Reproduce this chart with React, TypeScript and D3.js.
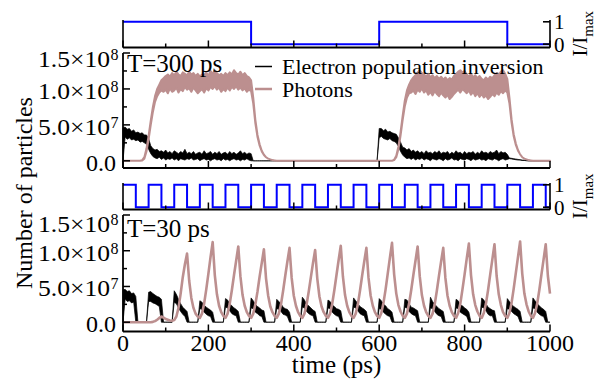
import React from 'react';
import * as d3 from 'd3';

// all traces sampled every 5 ps from 0 to 1000 ps, values in units of 1e7 particles
const STEP = 5;

// pump pulses (I/Imax), step functions
const pulse300Times = [0, 300, 600, 900, 1000];
const pulse300Levels = [1, 0, 1, 0, 0];
const pulse30Times = [0, 30, 60, 90, 120, 150, 180, 210, 240, 270, 300, 330, 360, 390, 420, 450, 480, 510,
  540, 570, 600, 630, 660, 690, 720, 750, 780, 810, 840, 870, 900, 930, 960, 990, 1000];
const pulse30Levels = [1, 0, 1, 0, 1, 0, 1, 0, 1, 0, 1, 0, 1, 0, 1, 0, 1, 0,
  1, 0, 1, 0, 1, 0, 1, 0, 1, 0, 1, 0, 1, 0, 1, 0, 0];

// T = 300 ps : electron population inversion (noise band low / high)
const e1Lo = [
  0.0, 3.3, 3.0, 3.2, 2.9, 3.0, 2.8, 2.9, 2.6, 2.7, 2.5, 2.3, 1.6, 1.0, 0.6, 0.4, 0.3, 0.5, 0.2, 0.4,
  0.1, 0.3, 0.2, 0.4, 0.1, 0.3, 0.0, 0.3, 0.2, 0.1, 0.3, 0.2, 0.4, 0.1, 0.2, 0.3, 0.0, 0.2, 0.3, 0.1,
  0.2, 0.0, 0.2, 0.3, 0.1, 0.2, 0.0, 0.3, 0.1, 0.2, 0.0, 0.2, 0.3, 0.1, 0.2, 0.0, 0.2, 0.1, 0.3, 0.1,
  0, 0, 0, 0, 0, 0, 0, 0, 0, 0, 0, 0, 0, 0, 0, 0, 0, 0, 0, 0,
  0, 0, 0, 0, 0, 0, 0, 0, 0, 0, 0, 0, 0, 0, 0, 0, 0, 0, 0, 0,
  0, 0, 0, 0, 0, 0, 0, 0, 0, 0, 0, 0, 0, 0, 0, 0, 0, 0, 0, 0,
  3.2, 3.4, 3.1, 3.0, 2.9, 3.1, 2.8, 2.7, 2.5, 2.0, 1.3, 0.8, 0.5, 0.3, 0.4, 0.2, 0.4, 0.1, 0.3, 0.2,
  0.4, 0.1, 0.3, 0.2, 0.0, 0.3, 0.2, 0.1, 0.3, 0.2, 0.0, 0.3, 0.1, 0.2, 0.4, 0.1, 0.2, 0.0, 0.3, 0.2,
  0.1, 0.3, 0.2, 0.0, 0.3, 0.1, 0.2, 0.3, 0.1, 0.2, 0.0, 0.3, 0.2, 0.1, 0.3, 0.2, 0.0, 0.2, 0.3, 0.1,
  0.2, 0.3, 0.25, 0.2, 0.15, 0.1, 0.1, 0.05, 0.05, 0, 0, 0, 0, 0, 0, 0, 0, 0, 0, 0,
  0,
];
const e1Hi = [
  4.6, 4.7, 4.4, 4.5, 4.1, 4.3, 3.9, 4.0, 3.8, 3.9, 3.6, 3.6, 3.1, 2.1, 1.7, 1.5, 1.6, 1.3, 1.4, 1.2,
  1.5, 1.1, 1.3, 1.0, 1.4, 1.2, 1.0, 1.3, 1.1, 1.6, 1.0, 1.2, 1.0, 1.3, 0.9, 1.1, 1.2, 0.9, 1.4, 1.0,
  1.1, 1.3, 0.9, 1.2, 1.0, 1.3, 0.9, 1.1, 1.2, 0.9, 1.3, 1.0, 1.2, 0.9, 1.1, 1.4, 1.0, 1.2, 0.9, 1.1,
  1.0, 0, 0, 0, 0, 0, 0, 0, 0, 0, 0, 0, 0, 0, 0, 0, 0, 0, 0, 0,
  0, 0, 0, 0, 0, 0, 0, 0, 0, 0, 0, 0, 0, 0, 0, 0, 0, 0, 0, 0,
  0, 0, 0, 0, 0, 0, 0, 0, 0, 0, 0, 0, 0, 0, 0, 0, 0, 0, 0, 0,
  4.5, 4.5, 4.2, 4.4, 4.0, 4.1, 3.9, 3.8, 3.7, 3.2, 2.6, 1.9, 1.8, 1.5, 1.7, 1.3, 1.5, 1.2, 1.4, 1.1,
  1.3, 1.0, 1.4, 1.1, 1.2, 1.0, 1.3, 1.1, 1.4, 1.0, 1.2, 1.1, 1.3, 0.9, 1.2, 1.0, 1.4, 1.1, 1.2, 0.9,
  1.3, 1.0, 1.2, 1.1, 1.3, 0.9, 1.2, 1.0, 1.4, 1.1, 1.2, 1.0, 1.3, 1.1, 1.2, 1.5, 1.0, 1.3, 1.1, 1.2,
  0.9, 0.4, 0.35, 0.3, 0.25, 0.2, 0.15, 0.1, 0.1, 0.05, 0, 0, 0, 0, 0, 0, 0, 0, 0, 0,
  0,
];

// T = 300 ps : photons (noise band low / high)
const p1Lo = [
  0, 0, 0, 0, 0, 0, 0, 0, 0, 0.05, 0.3, 1.3, 3.0, 5.0, 6.8, 8.2, 9.0, 9.5, 9.8, 9.6,
  9.9, 9.4, 10.1, 9.6, 9.8, 10.2, 9.5, 10.0, 9.7, 10.3, 9.9, 10.1, 9.6, 10.2, 9.8, 9.4, 9.7, 10.0, 9.5, 10.1,
  9.8, 10.3, 10.0, 10.4, 9.9, 10.2, 9.6, 10.0, 9.7, 10.2, 9.8, 10.3, 10.0, 10.4, 9.9, 10.2, 9.8, 10.1, 9.6, 9.9,
  9.7, 8.0, 5.2, 3.3, 2.1, 1.3, 0.8, 0.5, 0.3, 0.2, 0.1, 0.05, 0, 0, 0, 0, 0, 0, 0, 0,
  0, 0, 0, 0, 0, 0, 0, 0, 0, 0, 0, 0, 0, 0, 0, 0, 0, 0, 0, 0,
  0, 0, 0, 0, 0, 0, 0, 0, 0, 0, 0, 0, 0, 0, 0, 0, 0, 0, 0, 0,
  0, 0, 0, 0, 0, 0, 0, 0.1, 0.5, 1.6, 3.5, 5.7, 7.6, 8.8, 9.4, 9.5, 9.8, 9.3, 9.9, 9.6,
  10.1, 9.5, 9.8, 9.2, 9.6, 9.1, 9.7, 9.3, 9.0, 9.5, 9.1, 8.8, 9.2, 8.6, 8.9, 9.3, 9.6, 9.9, 9.5, 10.0,
  9.7, 9.4, 9.8, 9.2, 9.6, 9.0, 9.4, 8.9, 9.3, 8.8, 9.1, 8.6, 8.9, 9.3, 9.0, 9.5, 9.2, 9.7, 9.4, 9.8,
  9.5, 8.0, 5.3, 3.4, 2.2, 1.4, 0.9, 0.5, 0.3, 0.2, 0.1, 0.05, 0, 0, 0, 0, 0, 0, 0, 0,
  0,
];
const p1Hi = [
  0, 0, 0, 0, 0, 0, 0, 0, 0, 0.1, 0.5, 1.7, 3.5, 5.6, 7.5, 9.0, 10.0, 10.6, 11.2, 11.5,
  11.8, 12.0, 11.7, 12.2, 11.9, 12.4, 12.0, 11.8, 12.3, 12.1, 11.9, 12.4, 12.0, 12.2, 11.8, 12.1, 11.7, 12.0, 11.9, 12.3,
  11.8, 12.5, 12.1, 12.6, 12.2, 11.9, 12.1, 11.8, 12.2, 11.9, 12.3, 12.0, 12.6, 12.2, 12.0, 12.4, 11.9, 12.2, 11.8, 11.6,
  11.2, 8.8, 5.7, 3.6, 2.3, 1.4, 0.85, 0.5, 0.3, 0.2, 0.1, 0.05, 0, 0, 0, 0, 0, 0, 0, 0,
  0, 0, 0, 0, 0, 0, 0, 0, 0, 0, 0, 0, 0, 0, 0, 0, 0, 0, 0, 0,
  0, 0, 0, 0, 0, 0, 0, 0, 0, 0, 0, 0, 0, 0, 0, 0, 0, 0, 0, 0,
  0, 0, 0, 0, 0, 0, 0, 0.15, 0.7, 2.0, 4.0, 6.3, 8.4, 9.8, 10.6, 11.2, 11.6, 11.9, 12.3, 12.6,
  12.2, 12.0, 11.7, 12.1, 11.6, 11.9, 11.5, 11.8, 11.4, 11.7, 11.3, 11.6, 11.2, 11.5, 11.3, 11.8, 12.1, 12.4, 12.6, 12.3,
  12.5, 12.0, 11.7, 12.1, 11.6, 11.9, 11.5, 11.8, 11.4, 11.2, 11.6, 11.3, 11.7, 11.5, 11.9, 12.2, 12.0, 12.4, 12.6, 12.1,
  11.4, 8.8, 5.8, 3.7, 2.4, 1.5, 0.9, 0.5, 0.3, 0.2, 0.1, 0.05, 0, 0, 0, 0, 0, 0, 0, 0,
  0,
];

// T = 30 ps : electron population inversion (one row per 60 ps period)
const e2Lo = [
  0.0, 3.2, 2.9, 3.0, 2.7, 2.8, 0, 0, 0, 0, 0, 0,
  2.9, 2.9, 2.7, 2.6, 2.4, 2.2, 0, 0, 0, 0, 0, 0,
  2.8, 2.6, 2.0, 1.5, 1.1, 0.8, 0, 0, 0, 0, 0, 0,
  1.9, 1.8, 1.4, 1.1, 0.9, 0.8, 0, 0, 0, 0, 0, 0,
  2.1, 2.0, 1.6, 1.2, 1.0, 0.9, 0, 0, 0, 0, 0, 0,
  2.0, 1.9, 1.4, 1.2, 0.9, 0.8, 0, 0, 0, 0, 0, 0,
  1.9, 1.8, 1.5, 1.1, 1.0, 0.8, 0, 0, 0, 0, 0, 0,
  2.1, 2.0, 1.5, 1.2, 1.0, 0.9, 0, 0, 0, 0, 0, 0,
  2.0, 1.9, 1.4, 1.1, 0.9, 0.8, 0, 0, 0, 0, 0, 0,
  2.1, 2.0, 1.6, 1.2, 1.0, 0.9, 0, 0, 0, 0, 0, 0,
  1.9, 1.8, 1.4, 1.1, 0.9, 0.8, 0, 0, 0, 0, 0, 0,
  2.1, 2.0, 1.5, 1.2, 1.0, 0.9, 0, 0, 0, 0, 0, 0,
  2.0, 1.9, 1.5, 1.1, 0.9, 0.8, 0, 0, 0, 0, 0, 0,
  2.0, 1.9, 1.4, 1.2, 1.0, 0.8, 0, 0, 0, 0, 0, 0,
  2.1, 2.0, 1.6, 1.1, 0.9, 0.9, 0, 0, 0, 0, 0, 0,
  1.9, 1.8, 1.5, 1.2, 1.0, 0.8, 0, 0, 0, 0, 0, 0,
  2.0, 1.9, 1.4, 1.1, 0.9, 0.8, 0, 0, 0,
];
const e2Hi = [
  4.5, 4.6, 4.3, 4.4, 4.0, 4.1, 3.6, 0, 0, 0, 0, 0,
  4.2, 4.3, 4.0, 3.8, 3.6, 3.5, 3.2, 0, 0, 0, 0, 0,
  4.4, 3.9, 3.2, 2.6, 2.1, 1.8, 1.5, 0, 0, 0, 0, 0,
  3.0, 2.8, 2.4, 2.1, 1.9, 1.7, 1.4, 0, 0, 0, 0, 0,
  3.3, 3.1, 2.6, 2.3, 2.0, 1.8, 1.5, 0, 0, 0, 0, 0,
  3.4, 3.0, 2.5, 2.2, 2.0, 1.7, 1.6, 0, 0, 0, 0, 0,
  3.2, 2.9, 2.6, 2.1, 1.9, 1.8, 1.4, 0, 0, 0, 0, 0,
  3.5, 3.1, 2.5, 2.3, 2.0, 1.7, 1.5, 0, 0, 0, 0, 0,
  3.1, 2.9, 2.4, 2.2, 1.9, 1.8, 1.6, 0, 0, 0, 0, 0,
  3.4, 3.0, 2.6, 2.2, 2.0, 1.8, 1.5, 0, 0, 0, 0, 0,
  3.3, 3.0, 2.5, 2.3, 1.9, 1.7, 1.4, 0, 0, 0, 0, 0,
  3.2, 3.1, 2.6, 2.1, 2.0, 1.8, 1.6, 0, 0, 0, 0, 0,
  3.5, 2.9, 2.5, 2.2, 1.9, 1.7, 1.5, 0, 0, 0, 0, 0,
  3.2, 3.0, 2.4, 2.3, 2.0, 1.8, 1.4, 0, 0, 0, 0, 0,
  3.4, 3.1, 2.6, 2.1, 1.9, 1.7, 1.6, 0, 0, 0, 0, 0,
  3.3, 2.9, 2.5, 2.2, 2.0, 1.8, 1.5, 0, 0, 0, 0, 0,
  3.4, 3.0, 2.6, 2.3, 2.0, 1.8, 1.5, 0, 0,
];

// T = 30 ps : photons
const p2 = [
  0, 0, 0, 0, 0, 0, 0, 0, 0, 0, 0, 0,
  0, 0, 0.05, 0.15, 0.35, 0.6, 0.8, 0.65, 0.45, 0.35, 0.25, 0.2,
  0.3, 0.8, 2.0, 4.0, 6.3, 8.1, 9.6, 5.8, 3.4, 2.0, 1.2, 0.8,
  0.6, 1.2, 2.6, 4.6, 6.8, 9.1, 11.2, 6.6, 3.9, 2.3, 1.4, 0.9,
  0.6, 1.2, 2.6, 4.5, 6.6, 8.6, 10.6, 6.4, 3.8, 2.3, 1.4, 0.9,
  0.6, 1.2, 2.5, 4.3, 6.4, 8.3, 10.2, 6.1, 3.7, 2.2, 1.4, 0.9,
  0.6, 1.2, 2.5, 4.4, 6.5, 8.5, 10.4, 6.2, 3.7, 2.3, 1.4, 0.9,
  0.6, 1.2, 2.5, 4.3, 6.3, 8.3, 10.1, 6.1, 3.6, 2.2, 1.4, 0.9,
  0.6, 1.2, 2.6, 4.5, 6.6, 8.7, 10.7, 6.4, 3.8, 2.3, 1.4, 0.9,
  0.6, 1.2, 2.5, 4.4, 6.5, 8.5, 10.4, 6.2, 3.7, 2.3, 1.4, 0.9,
  0.6, 1.3, 2.7, 4.6, 6.8, 9.0, 11.1, 6.7, 4.0, 2.4, 1.5, 0.9,
  0.6, 1.2, 2.6, 4.5, 6.6, 8.6, 10.6, 6.4, 3.8, 2.3, 1.4, 0.9,
  0.6, 1.2, 2.5, 4.4, 6.5, 8.5, 10.4, 6.2, 3.7, 2.3, 1.4, 0.9,
  0.6, 1.3, 2.6, 4.6, 6.7, 8.9, 11.0, 6.6, 3.9, 2.4, 1.5, 0.9,
  0.6, 1.3, 2.6, 4.5, 6.7, 8.8, 10.9, 6.5, 3.9, 2.4, 1.4, 0.9,
  0.6, 1.3, 2.7, 4.7, 6.9, 9.1, 11.3, 6.8, 4.0, 2.5, 1.5, 0.9,
  0.6, 1.3, 2.6, 4.5, 6.7, 8.8, 10.9, 6.5, 4.0,
];

const yTickVals = [0, 5, 10, 15];
const yMinorVals = [2.5, 7.5, 12.5];
const yTickText = ['0.0', '5.0\u00d710', '1.0\u00d710', '1.5\u00d710'];
const yTickExp = ['', '7', '8', '8'];

const FONT = '"Liberation Serif", "Times New Roman", Times, serif';
const BLUE = '#0000ff';
const ROSY = '#bc8f8f';

const x = d3.scaleLinear().domain([0, 1000]).range([123, 550]);
const xMajor = x.ticks(5);
const xMinor = x.ticks(10).filter(t => !xMajor.includes(t));

type PanelProps = {
  stripTop: number; stripBottom: number; stripDomain: [number, number];
  mainTop: number; mainBottom: number; mainDomain: [number, number];
  pulseT: number[]; pulseL: number[];
  eLo: number[]; eHi: number[];
  pLo?: number[]; pHi?: number[]; pLine?: number[];
  label: string; labelY: number; topShift: number;
  legend?: boolean; xLabels?: boolean;
};

function Panel(p: PanelProps) {
  const yS = d3.scaleLinear().domain(p.stripDomain).range([p.stripBottom, p.stripTop]);
  const yM = d3.scaleLinear().domain(p.mainDomain).range([p.mainBottom, p.mainTop]);
  const x0 = x.range()[0], x1 = x.range()[1];

  const pulsePath = d3.line<number>()
    .x((_, i) => x(p.pulseT[i])).y(d => yS(d))
    .curve(d3.curveStepAfter)(p.pulseL) ?? '';

  const band = (lo: number[], hi: number[]) => d3.area<number>()
    .x(i => x(i * STEP)).y0(i => yM(lo[i])).y1(i => yM(hi[i]))(d3.range(lo.length)) ?? '';

  const ePath = band(p.eLo, p.eHi);
  const pPath = p.pLo && p.pHi ? band(p.pLo, p.pHi)
    : d3.line<number>().x((_, i) => x(i * STEP)).y(d => yM(d))(p.pLine ?? []) ?? '';

  const stripMid = (p.stripTop + p.stripBottom) / 2;

  return (
    <g>
      {/* pump strip */}
      <path d={pulsePath} fill="none" stroke={BLUE} strokeWidth={2} />
      <g stroke="#000" fill="none">
        <line x1={x0} x2={x0} y1={p.stripTop} y2={p.stripBottom} strokeWidth={1.6} />
        <line x1={x1} x2={x1} y1={p.stripTop} y2={p.stripBottom} strokeWidth={1.6} />
        <line x1={x0} x2={x1} y1={p.stripBottom} y2={p.stripBottom} strokeWidth={2} />
        {[0, 1].map(v => (
          <line key={v} x1={x1} x2={x1 - 7} y1={yS(v)} y2={yS(v)} strokeWidth={1.6} />
        ))}
        {xMajor.map(t => <line key={t} x1={x(t)} x2={x(t)} y1={p.stripBottom} y2={p.stripBottom - 7} strokeWidth={1.5} />)}
        {xMinor.map(t => <line key={t} x1={x(t)} x2={x(t)} y1={p.stripBottom} y2={p.stripBottom - 4} strokeWidth={1.5} />)}
      </g>
      {[0, 1].map(v => (
        <text key={v} x={554} y={yS(v) + 7.5} fontSize={21}>{v}</text>
      ))}
      <text transform={`translate(587,${stripMid}) rotate(-90)`} textAnchor="middle" fontSize={21}>
        I/I<tspan fontSize={15} dy={6}>max</tspan>
      </text>

      {/* main plot */}
      <path d={ePath} fill="#000" stroke="#000" strokeWidth={0.7} />
      {p.pLo
        ? <path d={pPath} fill={ROSY} stroke={ROSY} strokeWidth={2} strokeLinejoin="round" />
        : <path d={pPath} fill="none" stroke={ROSY} strokeWidth={2.6} strokeLinejoin="round" />}
      <g stroke="#000" fill="none">
        <line x1={x0} x2={x0} y1={p.mainTop} y2={p.mainBottom} strokeWidth={1.8} />
        <line x1={x0} x2={x1} y1={p.mainBottom} y2={p.mainBottom} strokeWidth={2} />
        {yTickVals.map(v => <line key={v} x1={x0} x2={x0 + 7} y1={yM(v)} y2={yM(v)} strokeWidth={1.5} />)}
        {yMinorVals.map(v => <line key={v} x1={x0} x2={x0 + 4} y1={yM(v)} y2={yM(v)} strokeWidth={1.5} />)}
        {xMajor.map(t => <line key={t} x1={x(t)} x2={x(t)} y1={p.mainBottom} y2={p.mainBottom - 7} strokeWidth={1.5} />)}
        {xMinor.map(t => <line key={t} x1={x(t)} x2={x(t)} y1={p.mainBottom} y2={p.mainBottom - 4} strokeWidth={1.5} />)}
      </g>
      {yTickVals.map((v, k) => {
        const base = yM(v) + 8 + (k === yTickVals.length - 1 ? p.topShift : 2);
        if (!yTickExp[k]) {
          return <text key={v} x={116} y={base} textAnchor="end" fontSize={24}>{yTickText[k]}</text>;
        }
        return (
          <g key={v}>
            <text x={38} y={base} fontSize={24} textLength={72} lengthAdjust="spacingAndGlyphs">{yTickText[k]}</text>
            <text x={110.5} y={base - 7} fontSize={16}>{yTickExp[k]}</text>
          </g>
        );
      })}
      {p.xLabels && xMajor.map(t => (
        <text key={t} x={x(t)} y={p.mainBottom + 19} textAnchor="middle" fontSize={24}>{t}</text>
      ))}
      <text x={127} y={p.labelY} fontSize={25}>{p.label}</text>

      {p.legend && (
        <g>
          <line x1={255} x2={272} y1={66.5} y2={66.5} stroke="#000" strokeWidth={1.5} />
          <text x={282} y={73.5} fontSize={22}>Electron population inversion</text>
          <line x1={255} x2={272} y1={89} y2={89} stroke={ROSY} strokeWidth={2.5} />
          <text x={282} y={96.5} fontSize={22}>Photons</text>
        </g>
      )}
    </g>
  );
}

export default function App() {
  return (
    <svg width={598} height={383} fontFamily={FONT}
      style={{ position: 'absolute', left: 0, top: 0, background: '#fff' }}>
      <Panel stripTop={20} stripBottom={47.5} stripDomain={[-0.15, 1.08]}
        mainTop={53} mainBottom={168} mainDomain={[-1, 15]}
        pulseT={pulse300Times} pulseL={pulse300Levels}
        eLo={e1Lo} eHi={e1Hi} pLo={p1Lo} pHi={p1Hi}
        label="T=300 ps" labelY={71.5} topShift={6} legend />
      <Panel stripTop={183} stripBottom={209.5} stripDomain={[-0.1, 1.08]}
        mainTop={215} mainBottom={331.5} mainDomain={[-1.3, 15]}
        pulseT={pulse30Times} pulseL={pulse30Levels}
        eLo={e2Lo} eHi={e2Hi} pLine={p2}
        label="T=30 ps" labelY={236.5} topShift={9} xLabels />
      <text transform="translate(32,193) rotate(-90)" textAnchor="middle" fontSize={24}>Number of particles</text>
      <text x={336.5} y={373} textAnchor="middle" fontSize={25}>time (ps)</text>
    </svg>
  );
}
